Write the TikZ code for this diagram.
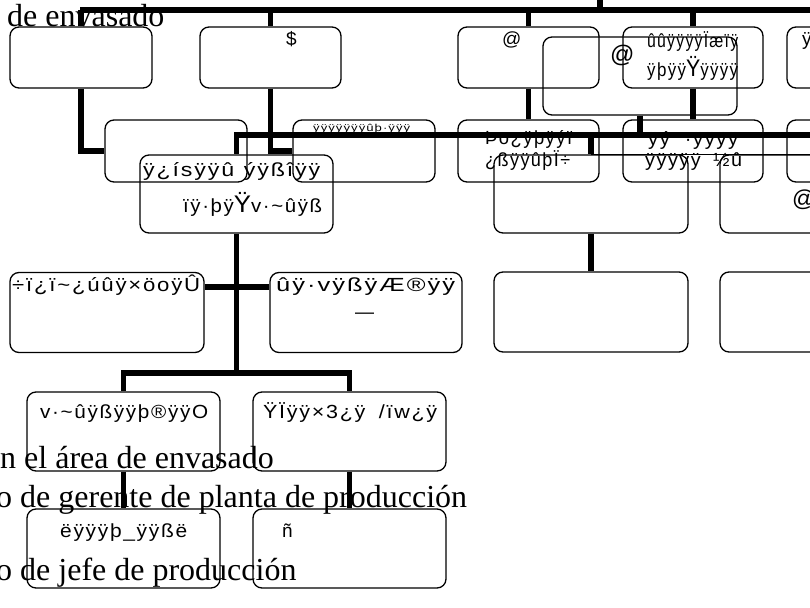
\documentclass[tikz,border=0pt]{standalone}
\usepackage{graphicx}
\usepackage{fontspec}
\setmainfont{Liberation Serif}
\newfontfamily\gb{Liberation Sans}[LetterSpace=8]
\newsavebox\gbx
\newcommand\fitto[2]{\sbox\gbx{#2}\pgfmathsetmacro\gsx{#1/\wd\gbx}\scalebox{\gsx}[1]{\usebox\gbx}}
\begin{document}
\begin{tikzpicture}[x=1pt,y=-1pt,
 box/.style={draw,line width=1.3pt,rounded corners=9pt,inner sep=0pt},
 conn/.style={line width=5.2pt},
 thinconn/.style={line width=1.3pt},
 gt/.style={inner sep=0pt,anchor=base west,font=\gb\fontsize{19}{19}\selectfont},
 st/.style={inner sep=0pt,anchor=base west,font=\fontsize{32}{32}\selectfont}]
\clip (0,0) rectangle (810,607);
% row 1
\node[box,minimum width=142pt,minimum height=61pt] (b1) at (81,57.5) {};
\node[box,minimum width=141pt,minimum height=61pt] (bs) at (270.5,57.5) {};
\node[box,minimum width=141pt,minimum height=61pt] (b3) at (528.5,57.5) {};
\node[box,minimum width=140pt,minimum height=61pt] (b4) at (693,57.5) {};
\node[box,minimum width=140pt,minimum height=61pt] (b5) at (857,57.5) {};
\node[box,minimum width=194pt,minimum height=78pt] (bo) at (640,76) {};
% row 2
\node[box,minimum width=142pt,minimum height=62pt] (ra) at (176,151) {};
\node[box,minimum width=142pt,minimum height=62pt] (rb) at (364,151) {};
\node[box,minimum width=141pt,minimum height=62pt] (rc) at (528.5,151) {};
\node[box,minimum width=140pt,minimum height=62pt] (rd) at (693,151) {};
\node[box,minimum width=140pt,minimum height=62pt] (re) at (857,151) {};
% main and right column
\node[box,minimum width=193pt,minimum height=78pt] (mm) at (236.5,194) {};
\node[box,minimum width=194pt,minimum height=78pt] (r3a) at (591,194) {};
\node[box,minimum width=194pt,minimum height=78pt] (r3b) at (817,194) {};
\node[box,minimum width=194pt,minimum height=80pt] (r4a) at (591,312) {};
\node[box,minimum width=194pt,minimum height=80pt] (r4b) at (817,312) {};
% lower left
\node[box,minimum width=194pt,minimum height=80pt] (l1) at (107,312.5) {};
\node[box,minimum width=192pt,minimum height=80pt] (l2) at (366,312.5) {};
\node[box,minimum width=193pt,minimum height=79pt] (m1) at (123.5,431.5) {};
\node[box,minimum width=193pt,minimum height=79pt] (m2) at (349.5,431.5) {};
\node[box,minimum width=193pt,minimum height=79pt] (n1) at (123.5,548.5) {};
\node[box,minimum width=193pt,minimum height=79pt] (n2) at (349.5,548.5) {};
% connectors
\coordinate (tl) at (80,10);
\coordinate (tr) at (810,10);
\coordinate (tt) at (600,0);
\coordinate (hr) at (810,135);
\coordinate (fork) at (236.5,373);
\draw[conn] (tl) -- (tr);
\draw[conn] (tt) -- (tt |- tl);
\draw[conn] (b1.north) -- (b1.north |- tl);
\draw[conn] (bs.north) -- (bs.north |- tl);
\draw[conn] (b3.north) -- (b3.north |- tl);
\draw[conn] (b4.north) -- (b4.north |- tl);
\draw[conn] (b1.south) |- (ra.west);
\draw[conn] (bs.south) |- (rb.west);
\draw[conn] (b3.south) -- (rc.north);
\draw[conn] (b4.south) -- (rd.north);
\draw[conn] (hr) -| (mm.north);
\draw[conn] (bo.south) -- (bo.south |- hr);
\draw[conn] (r3a.north |- hr) -- (r3a.north);
\draw[thinconn] (r3a.north) -- (r3a.north -| hr);
\draw[conn] (r3a.south) -- (r4a.north);
\draw[conn] (mm.south) -- (fork);
\draw[conn] ([yshift=25.5pt]l1.east) -- ([yshift=25.5pt]l2.west);
\draw[conn] (m1.north) -- (m1.north |- fork) -- (m2.north |- fork) -- (m2.north);
\draw[conn] (m1.south) -- (n1.north);
\draw[conn] (m2.south) -- (n2.north);
% garbled texts
\node[gt] (tbs) at (286,46) {\$};
\node[gt] (tb3) at (502,46) {@};
\node[gt,font=\gb\fontsize{24}{24}\selectfont] (tbo) at (610,63) {@};
\node[gt] (tb4a) at (647,48) {\fitto{91}{ûûÿÿÿÿÏæïÿ}};
\node[gt] (tb4b) at (647,77) {\fitto{91}{ÿþÿÿ{\fontsize{24}{24}\selectfont Ÿ}ÿÿÿÿ}};
\node[gt] (tb5) at (802,46) {ÿ};
\node[gt,font=\gb\fontsize{10}{10}\selectfont] (trb) at (313,131) {\fitto{97}{ÿÿÿÿÿÿÿûþ·ÿÿÿ}};
\node[gt] (trc1) at (485,144) {\fitto{87}{Þo¿ÿþÿýï}};
\node[gt] (trc2) at (485,166) {\fitto{85}{¿ßÿÿûþÏ÷}};
\node[gt] (trd1) at (648,145) {\fitto{90}{ÿý\hspace{14pt}·ÿÿÿÿ}};
\node[gt] (trd2) at (645,166) {\fitto{97}{ÿÿÿÿÿ\hspace{12pt}½û}};
\node[gt] (tmm1) at (143,176) {\fitto{177}{ÿ¿ísÿÿû\hspace{8pt}ýÿßîÿÿ}};
\node[gt] (tmm2) at (183,212) {\fitto{139}{ïÿ·þÿ{\fontsize{24}{24}\selectfont Ÿ}v·\textasciitilde ûÿß}};
\node[gt,font=\gb\fontsize{23}{23}\selectfont] (tr3b) at (792,206) {@};
\node[gt] (tl1) at (12,291) {\fitto{188}{÷ï¿ï\textasciitilde ¿úûÿ×öoÿÛ}};
\node[gt] (tl2a) at (276,291) {\fitto{179}{ûÿ·vÿßÿÆ®ÿÿ}};
\node[gt] (tl2b) at (355,318) {—};
\node[gt] (tm1) at (40,418) {\fitto{168}{v·\textasciitilde ûÿßÿÿþ®ÿÿO}};
\node[gt] (tm2) at (263,418) {\fitto{174}{ŸÏÿÿ×3¿ÿ\hspace{12pt}/ïw¿ÿ}};
\node[gt] (tn1) at (60,537) {\fitto{127}{ëÿÿÿþ\_ÿÿßë}};
\node[gt] (tn2) at (282,537) {ñ};
% serif texts
\node[st] (s1) at (7,27) {de envasado};
\node[st] (s2) at (0,468) {n el área de envasado};
\node[st] (s3) at (-4,507) {o de gerente de planta de producción};
\node[st] (s4) at (-4,580) {o de jefe de producción};
\end{tikzpicture}
\end{document}
